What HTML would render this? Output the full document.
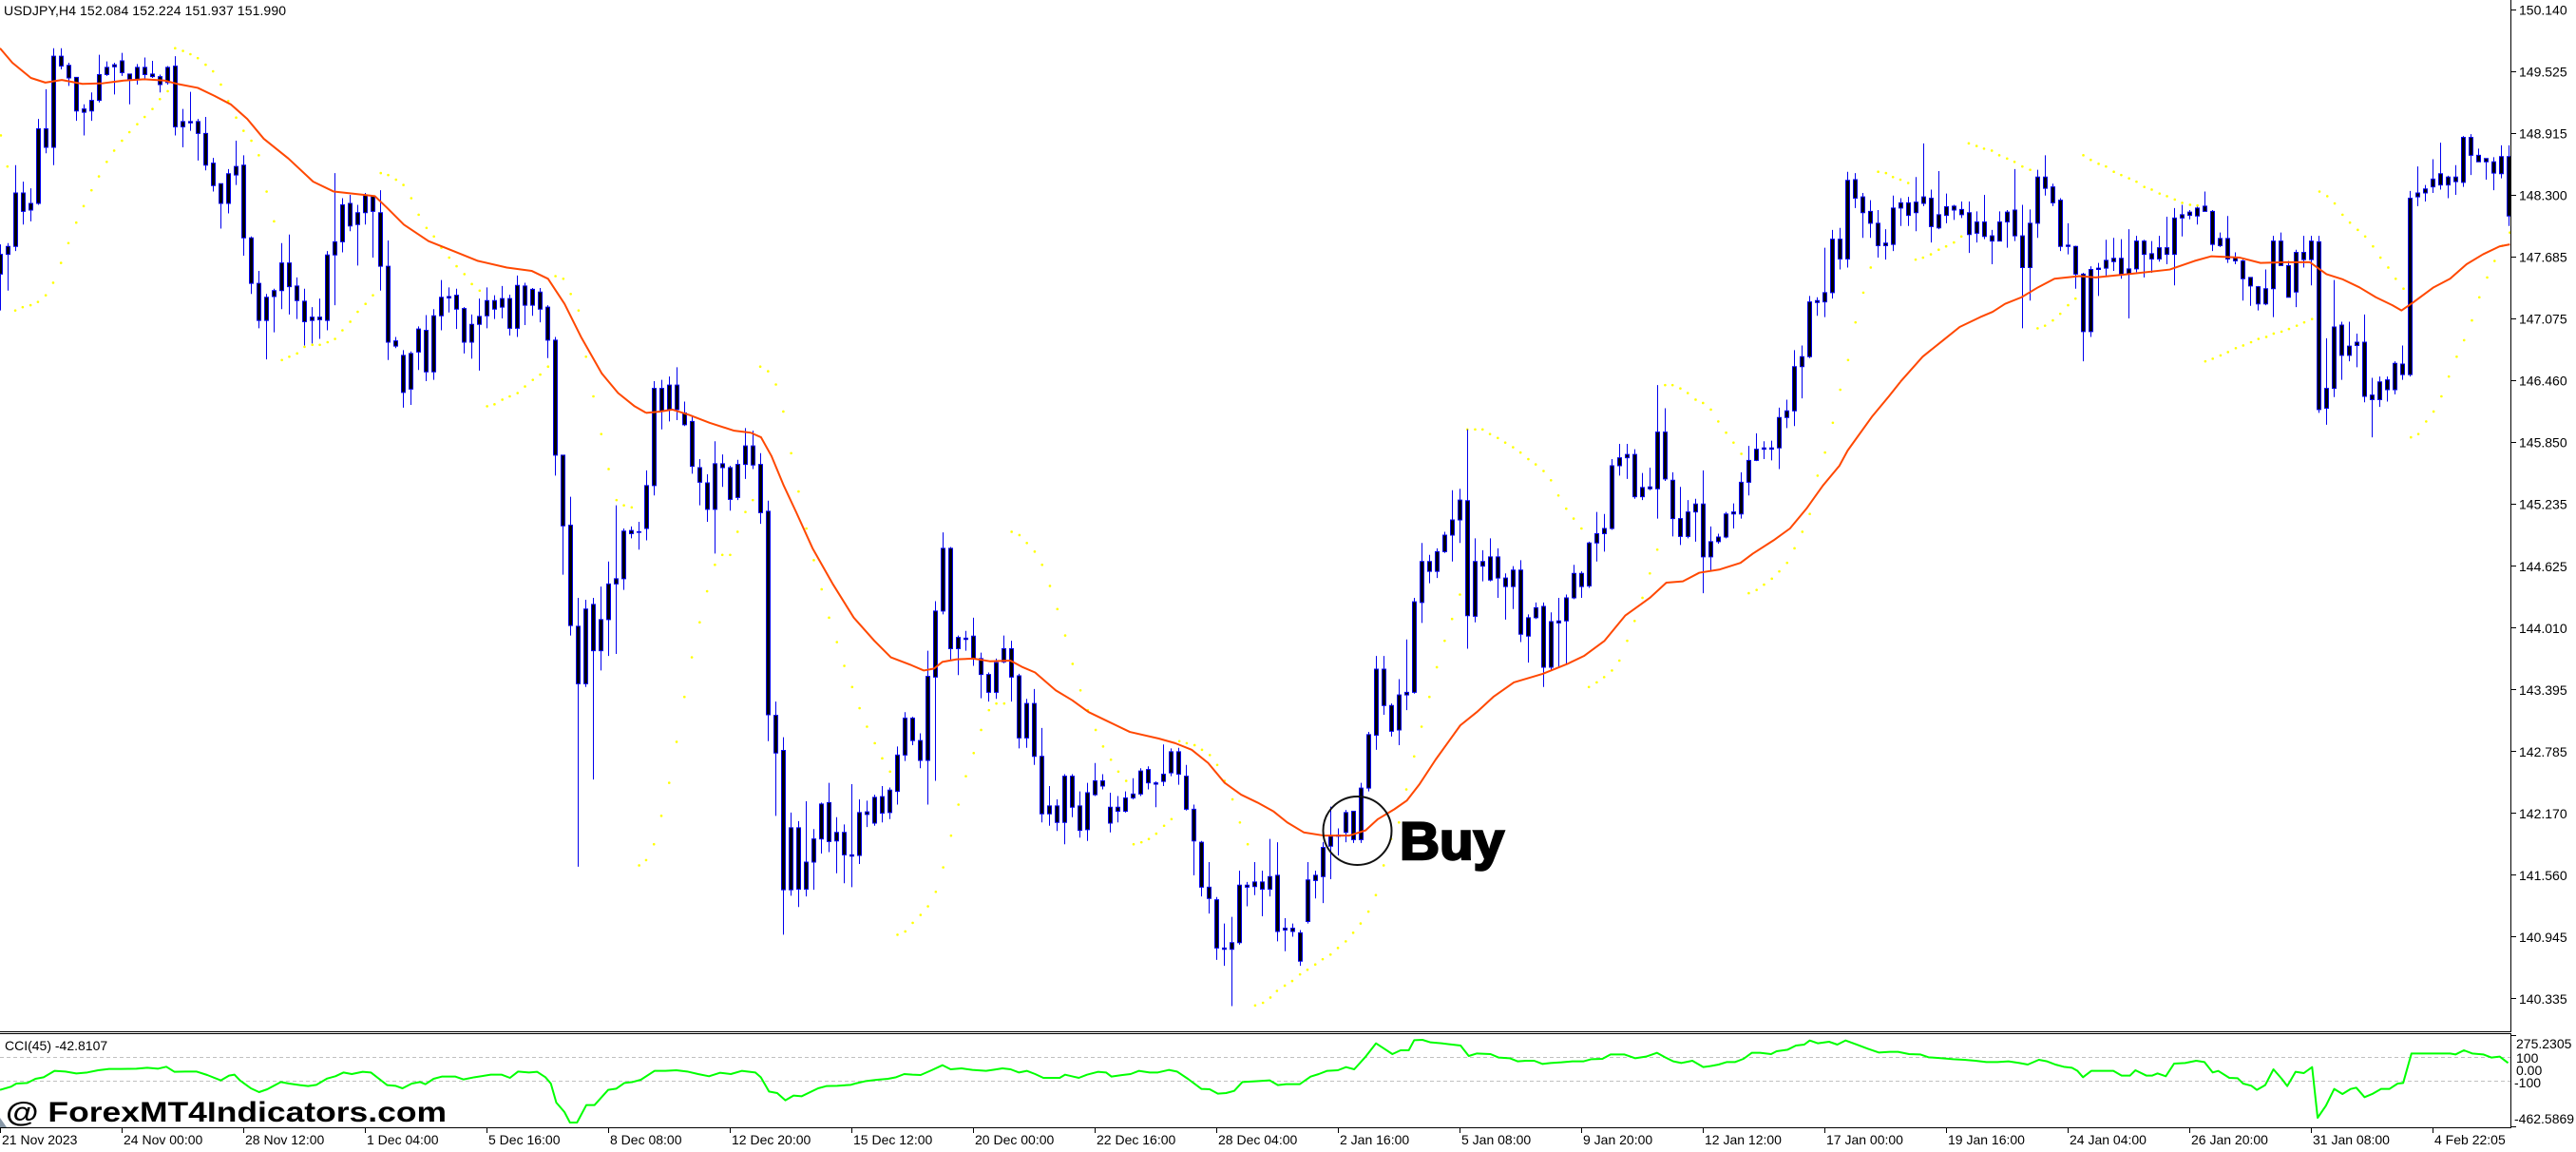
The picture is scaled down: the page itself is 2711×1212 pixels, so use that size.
<!DOCTYPE html>
<html>
<head>
<meta charset="utf-8">
<style>
html,body{margin:0;padding:0;background:#fff;}
svg{display:block;}
text{font-family:"Liberation Sans",Arial,sans-serif;fill:#000;}
</style>
</head>
<body>
<svg width="2711" height="1212" viewBox="0 0 2711 1212" xmlns="http://www.w3.org/2000/svg">
<rect x="0" y="0" width="2711" height="1212" fill="#fff"/>

<text x="4" y="16" font-size="14" textLength="297">USDJPY,H4  152.084 152.224 151.937 151.990</text>

<!-- SAR dots -->
<g fill="none" stroke="#ffff00" stroke-width="2.6" stroke-linecap="round">
<path transform="translate(0,0) scale(0.43367,0.695)" vector-effect="non-scaling-stroke" d="M2 205h.1M18 252h.1M37 470h.1M55 465h.1M74 462h.1M92 457h.1M111 447h.1M129 428h.1M148 398h.1M166 368h.1M185 337h.1M203 312h.1M222 288h.1M240 267h.1M259 245h.1M277 228h.1M296 213h.1M314 200h.1M333 188h.1M351 177h.1M370 165h.1M388 150h.1M407 138h.1M425 73h.1M444 77h.1M462 82h.1M480 88h.1M499 98h.1M517 108h.1M536 128h.1M554 153h.1M573 178h.1M591 198h.1M610 213h.1M628 235h.1M647 290h.1M665 335h.1M684 545h.1M702 540h.1M721 535h.1M739 525h.1M758 522h.1M776 522h.1M795 518h.1M813 513h.1M831 500h.1M850 487h.1M868 472h.1M887 460h.1M905 447h.1M924 262h.1M942 265h.1M961 272h.1M979 280h.1M998 300h.1M1016 325h.1M1035 345h.1M1053 358h.1M1071 375h.1M1090 390h.1M1108 403h.1M1127 415h.1M1145 430h.1M1164 440h.1M1182 615h.1M1200 612h.1M1219 605h.1M1237 600h.1M1256 595h.1M1274 585h.1M1293 575h.1M1311 567h.1M1330 555h.1M1348 418h.1M1367 422h.1M1385 445h.1M1404 470h.1M1422 540h.1M1440 600h.1M1459 657h.1M1477 710h.1M1496 757h.1M1514 765h.1M1533 768h.1M1551 1310h.1"/>
<path transform="translate(660,0) scale(0.43367,0.695)" vector-effect="non-scaling-stroke" d="M46 1302h.1M65 1278h.1M83 1235h.1M102 1185h.1M120 1123h.1M139 1055h.1M157 995h.1M176 942h.1M194 895h.1M213 855h.1M231 840h.1M250 840h.1M268 805h.1M287 775h.1M305 757h.1M323 555h.1M342 562h.1M361 582h.1M379 623h.1M398 686h.1M416 744h.1M435 800h.1M453 848h.1M472 892h.1M490 935h.1M509 972h.1M527 1008h.1M546 1040h.1M564 1072h.1M582 1100h.1M601 1125h.1M619 1148h.1M638 1168h.1M656 1415h.1M675 1410h.1M693 1397h.1M712 1385h.1M730 1372h.1M749 1350h.1M767 1313h.1M786 1265h.1M804 1218h.1M822 1175h.1M841 1140h.1M859 1105h.1M878 1075h.1M896 1065h.1M915 1065h.1M933 805h.1M952 810h.1M970 822h.1M989 835h.1M1007 855h.1M1026 887h.1M1044 922h.1M1063 962h.1M1081 1005h.1M1100 1045h.1M1118 1075h.1M1137 1105h.1M1155 1130h.1M1174 1150h.1M1192 1168h.1M1211 1182h.1M1229 1278h.1M1248 1275h.1M1266 1270h.1M1284 1262h.1M1303 1250h.1M1321 1240h.1M1340 1122h.1M1358 1125h.1M1377 1128h.1M1395 1135h.1M1414 1143h.1M1432 1158h.1M1450 1182h.1M1469 1210h.1M1487 1245h.1M1506 1278h.1M1524 1522h.1M1543 1518h.1M1561 1510h.1"/>
<path transform="translate(1320,0) scale(0.43367,0.695)" vector-effect="non-scaling-stroke" d="M55 1500h.1M74 1492h.1M92 1485h.1M111 1475h.1M129 1468h.1M148 1460h.1M166 1452h.1M185 1445h.1M203 1435h.1M222 1425h.1M240 1412h.1M258 1398h.1M277 1380h.1M295 1355h.1M314 1310h.1M332 1270h.1M351 1245h.1M369 1195h.1M388 1145h.1M406 1100h.1M425 1055h.1M443 1010h.1M462 970h.1M480 937h.1M499 900h.1M517 650h.1M536 650h.1M554 650h.1M572 657h.1M591 663h.1M609 670h.1M628 677h.1M646 685h.1M665 695h.1M683 703h.1M702 713h.1M720 727h.1M738 750h.1M757 770h.1M775 785h.1M794 800h.1M812 1040h.1M831 1033h.1M849 1025h.1M868 1015h.1M886 1000h.1M905 970h.1M923 940h.1M942 905h.1M960 868h.1M978 832h.1M997 583h.1M1015 583h.1M1034 588h.1M1052 595h.1M1071 605h.1M1089 610h.1M1108 620h.1M1126 638h.1M1145 655h.1M1163 670h.1M1182 687h.1M1200 898h.1M1219 893h.1M1237 885h.1M1256 876h.1M1274 865h.1M1293 852h.1M1311 830h.1M1330 805h.1M1348 778h.1M1367 720h.1M1385 685h.1M1404 640h.1M1422 590h.1M1441 545h.1M1459 488h.1M1478 443h.1M1496 405h.1M1514 260h.1M1533 262h.1"/>
<path transform="translate(1980,0) scale(0.43367,0.695)" vector-effect="non-scaling-stroke" d="M28 268h.1M46 272h.1M65 277h.1M83 393h.1M101 390h.1M120 385h.1M139 378h.1M157 373h.1M176 367h.1M194 358h.1M212 217h.1M231 221h.1M249 225h.1M268 228h.1M286 235h.1M305 240h.1M323 245h.1M342 252h.1M361 257h.1M379 497h.1M397 493h.1M416 485h.1M434 475h.1M453 462h.1M471 452h.1M490 235h.1M508 242h.1M527 248h.1M545 252h.1M564 260h.1M582 265h.1M601 270h.1M619 275h.1M638 283h.1M656 287h.1M675 293h.1M693 297h.1M712 302h.1M730 307h.1M749 310h.1M767 311h.1M786 547h.1M804 543h.1M823 538h.1M841 533h.1M860 527h.1M878 523h.1M897 518h.1M915 513h.1M934 510h.1M952 505h.1M971 502h.1M989 498h.1M1008 493h.1M1026 488h.1M1045 483h.1M1063 290h.1M1082 297h.1M1100 308h.1M1119 325h.1M1137 337h.1M1156 348h.1M1174 358h.1M1193 373h.1M1211 390h.1M1230 405h.1M1248 422h.1M1267 437h.1M1285 662h.1M1303 657h.1M1322 638h.1M1340 623h.1M1359 600h.1M1377 570h.1M1396 540h.1M1414 515h.1M1433 485h.1M1451 450h.1M1470 420h.1M1488 395h.1M1507 372h.1M1525 352h.1"/>
</g>

<!-- Candles -->
<g transform="scale(1,0.695)">
<path fill="none" stroke="#0000ee" stroke-width="1" d="M0.5 370V470M8.5 368V440M16.5 250V380M24.5 275V340M32.5 285V335M40.5 180V310M48.5 135V232M56.5 73V250M64.5 73V105M72.5 95V130M80.5 117V183M88.5 158V205M96.5 140V183M104.5 83V155M112.5 93V115M120.5 95V143M128.5 80V115M136.5 112V158M144.5 97V128M152.5 87V120M160.5 92V118M168.5 113V140M176.5 100V128M184.5 85V205M192.5 165V223M200.5 139V198M208.5 180V243M216.5 177V258M224.5 239V290M232.5 278V346M240.5 256V323M248.5 213V280M256.5 235V387M264.5 358V445M272.5 410V497M280.5 445V544M288.5 437V503M296.5 368V468M304.5 355V476M312.5 420V483M320.5 437V523M328.5 465V520M336.5 452V513M344.5 380V500M352.5 262V462M360.5 300V382M368.5 295V350M376.5 310V402M384.5 292V340M392.5 296V390M400.5 288V440M408.5 364V545M416.5 510V527M424.5 530V617M432.5 532V613M440.5 494V560M448.5 477V577M456.5 468V575M464.5 424V500M472.5 435V473M480.5 437V498M488.5 465V535M496.5 476V543M504.5 452V561M512.5 435V497M520.5 447V483M528.5 433V482M536.5 446V508M544.5 417V510M552.5 428V492M560.5 436V478M568.5 436V488M576.5 462V542M584.5 510V720M592.5 689V870M600.5 752V962M608.5 905V1312M616.5 908V1040M624.5 905V1180M632.5 888V1015M640.5 850V993M648.5 765V990M656.5 800V893M664.5 797V815M672.5 790V832M680.5 712V818M688.5 577V750M696.5 575V650M704.5 570V638M712.5 556V636M720.5 608V645M728.5 630V717M736.5 695V765M744.5 718V790M752.5 668V838M760.5 688V737M768.5 705V773M776.5 696V757M784.5 648V725M792.5 652V710M800.5 686V793M808.5 758V1122M816.5 1062V1235M824.5 1116V1415M832.5 1230V1356M840.5 1243V1373M848.5 1213V1357M856.5 1255V1347M864.5 1215V1292M872.5 1185V1290M880.5 1237V1322M888.5 1248V1337M896.5 1187V1343M904.5 1210V1308M912.5 1212V1252M920.5 1203V1250M928.5 1190V1245M936.5 1192V1240M944.5 1130V1218M952.5 1078V1152M960.5 1085V1128M968.5 1110V1163M976.5 985V1218M984.5 910V1182M992.5 806V930M1000.5 828V1000M1008.5 962V1022M1016.5 955V985M1024.5 935V1008M1032.5 988V1057M1040.5 1018V1062M1048.5 997V1058M1056.5 962V1004M1064.5 970V1062M1072.5 1020V1133M1080.5 1058V1132M1088.5 1043V1158M1096.5 1102V1245M1104.5 1190V1250M1112.5 1210V1258M1120.5 1172V1278M1128.5 1172V1237M1136.5 1198V1268M1144.5 1185V1273M1152.5 1155V1205M1160.5 1172V1195M1168.5 1200V1260M1176.5 1205V1245M1184.5 1198V1230M1192.5 1178V1210M1200.5 1163V1205M1208.5 1160V1195M1216.5 1183V1222M1224.5 1127V1190M1232.5 1133V1175M1240.5 1132V1188M1248.5 1158V1227M1256.5 1218V1325M1264.5 1273V1357M1272.5 1305V1383M1280.5 1358V1453M1288.5 1398V1462M1296.5 1388V1523M1304.5 1318V1430M1312.5 1335V1372M1320.5 1305V1355M1328.5 1318V1387M1336.5 1270V1357M1344.5 1275V1425M1352.5 1390V1440M1360.5 1398V1418M1368.5 1408V1462M1376.5 1305V1398M1384.5 1318V1360M1392.5 1275V1367M1400.5 1221V1331M1408.5 1254V1295M1416.5 1226V1275M1424.5 1228V1276M1432.5 1185V1276M1440.5 1108V1198M1448.5 993V1135M1456.5 993V1082M1464.5 1065V1115M1472.5 1028V1128M1480.5 968V1075M1488.5 905V1050M1496.5 822V943M1504.5 840V883M1512.5 830V875M1520.5 805V837M1528.5 742V850M1536.5 740V822M1544.5 650V982M1552.5 815V942M1560.5 833V880M1568.5 815V880M1576.5 830V905M1584.5 868V938M1592.5 857V922M1600.5 848V972M1608.5 930V1003M1616.5 912V937M1624.5 912V1040M1632.5 927V1015M1640.5 905V1010M1648.5 900V1005M1656.5 855V907M1664.5 865V905M1672.5 820V890M1680.5 775V850M1688.5 778V835M1696.5 695V802M1704.5 672V720M1712.5 672V725M1720.5 680V755M1728.5 716V757M1736.5 708V742M1744.5 583V785M1752.5 618V728M1760.5 715V812M1768.5 737V825M1776.5 757V815M1784.5 755V820M1792.5 712V898M1800.5 797V865M1808.5 808V823M1816.5 775V815M1824.5 762V800M1832.5 715V785M1840.5 675V750M1848.5 656V698M1856.5 668V695M1864.5 667V697M1872.5 617V710M1880.5 605V648M1888.5 530V645M1896.5 523V603M1904.5 448V542M1912.5 450V478M1920.5 375V480M1928.5 348V452M1936.5 345V408M1944.5 260V405M1952.5 262V315M1960.5 292V360M1968.5 303V360M1976.5 318V390M1984.5 347V393M1992.5 296V380M2000.5 300V342M2008.5 298V342M2016.5 268V350M2024.5 217V312M2032.5 287V367M2040.5 259V347M2048.5 293V338M2056.5 310V333M2064.5 305V330M2072.5 305V383M2080.5 320V367M2088.5 295V362M2096.5 348V400M2104.5 320V365M2112.5 318V375M2120.5 256V365M2128.5 310V497M2136.5 317V455M2144.5 257V360M2152.5 235V296M2160.5 278V312M2168.5 300V380M2176.5 338V385M2184.5 372V437M2192.5 413V547M2200.5 403V510M2208.5 398V448M2216.5 363V418M2224.5 360V410M2232.5 362V422M2240.5 347V482M2248.5 357V412M2256.5 363V420M2264.5 365V413M2272.5 357V396M2280.5 328V400M2288.5 315V432M2296.5 310V358M2304.5 318V332M2312.5 313V340M2320.5 290V320M2328.5 318V380M2336.5 352V374M2344.5 327V398M2352.5 382V400M2360.5 393V455M2368.5 420V463M2376.5 433V470M2384.5 408V462M2392.5 357V480M2400.5 352V402M2408.5 395V450M2416.5 378V465M2424.5 357V405M2432.5 357V432M2440.5 357V625M2448.5 512V643M2456.5 424V601M2464.5 487V575M2472.5 487V547M2480.5 505V556M2488.5 476V609M2496.5 572V662M2504.5 570V616M2512.5 570V608M2520.5 547V597M2528.5 523V575M2536.5 289V570M2544.5 252V312M2552.5 280V305M2560.5 241V292M2568.5 216V287M2576.5 266V300M2584.5 250V295M2592.5 206V283M2600.5 203V265M2608.5 225V245M2616.5 240V272M2624.5 238V288M2632.5 220V270M2640.5 220V342"/>
<path fill="#000" stroke="#0000ee" stroke-width="1" vector-effect="non-scaling-stroke" d="M-1.5 385h4V415h-4zM6.5 373h4V385h-4zM14.5 292h4V373h-4zM22.5 292h4V320h-4zM30.5 308h4V318h-4zM38.5 195h4V308h-4zM46.5 195h4V223h-4zM54.5 85h4V223h-4zM62.5 85h4V100h-4zM70.5 99h4V118h-4zM78.5 117h4V168h-4zM86.5 165h4V170h-4zM94.5 152h4V168h-4zM102.5 113h4V152h-4zM110.5 102h4V113h-4zM118.5 98h4V101h-4zM126.5 92h4V110h-4zM134.5 112h4V120h-4zM142.5 102h4V120h-4zM150.5 102h4V113h-4zM158.5 112h4V116h-4zM166.5 116h4V128h-4zM174.5 102h4V125h-4zM182.5 100h4V192h-4zM190.5 184h4V192h-4zM198.5 184h4V186h-4zM206.5 184h4V202h-4zM214.5 202h4V250h-4zM222.5 247h4V281h-4zM230.5 278h4V308h-4zM238.5 263h4V308h-4zM246.5 252h4V265h-4zM254.5 250h4V360h-4zM262.5 360h4V429h-4zM270.5 429h4V485h-4zM278.5 450h4V485h-4zM286.5 440h4V449h-4zM294.5 398h4V440h-4zM302.5 398h4V434h-4zM310.5 433h4V455h-4zM318.5 456h4V487h-4zM326.5 480h4V485h-4zM334.5 480h4V484h-4zM342.5 386h4V485h-4zM350.5 366h4V386h-4zM358.5 310h4V366h-4zM366.5 308h4V342h-4zM374.5 322h4V340h-4zM382.5 295h4V322h-4zM390.5 297h4V320h-4zM398.5 322h4V403h-4zM406.5 403h4V518h-4zM414.5 516h4V524h-4zM422.5 538h4V594h-4zM430.5 535h4V589h-4zM438.5 498h4V533h-4zM446.5 500h4V563h-4zM454.5 478h4V563h-4zM462.5 450h4V478h-4zM470.5 449h4V451h-4zM478.5 447h4V468h-4zM486.5 467h4V518h-4zM494.5 491h4V518h-4zM502.5 479h4V491h-4zM510.5 455h4V478h-4zM518.5 455h4V468h-4zM526.5 452h4V465h-4zM534.5 452h4V497h-4zM542.5 432h4V497h-4zM550.5 433h4V462h-4zM558.5 438h4V462h-4zM566.5 442h4V468h-4zM574.5 465h4V515h-4zM582.5 515h4V689h-4zM590.5 689h4V796h-4zM598.5 795h4V947h-4zM606.5 948h4V1035h-4zM614.5 922h4V1035h-4zM622.5 915h4V985h-4zM630.5 938h4V985h-4zM638.5 884h4V938h-4zM646.5 876h4V884h-4zM654.5 804h4V876h-4zM662.5 803h4V808h-4zM670.5 805h4V806h-4zM678.5 735h4V800h-4zM686.5 588h4V735h-4zM694.5 588h4V622h-4zM702.5 583h4V620h-4zM710.5 583h4V620h-4zM718.5 625h4V643h-4zM726.5 638h4V706h-4zM734.5 708h4V730h-4zM742.5 731h4V771h-4zM750.5 702h4V771h-4zM758.5 702h4V708h-4zM766.5 708h4V756h-4zM774.5 703h4V753h-4zM782.5 675h4V703h-4zM790.5 675h4V704h-4zM798.5 703h4V776h-4zM806.5 774h4V1082h-4zM814.5 1083h4V1140h-4zM822.5 1136h4V1347h-4zM830.5 1253h4V1347h-4zM838.5 1253h4V1346h-4zM846.5 1305h4V1346h-4zM854.5 1270h4V1305h-4zM862.5 1217h4V1270h-4zM870.5 1215h4V1274h-4zM878.5 1260h4V1273h-4zM886.5 1260h4V1294h-4zM894.5 1294h4V1296h-4zM902.5 1230h4V1295h-4zM910.5 1229h4V1233h-4zM918.5 1207h4V1246h-4zM926.5 1206h4V1231h-4zM934.5 1196h4V1230h-4zM942.5 1143h4V1198h-4zM950.5 1087h4V1143h-4zM958.5 1087h4V1121h-4zM966.5 1121h4V1151h-4zM974.5 1024h4V1151h-4zM982.5 925h4V1025h-4zM990.5 830h4V925h-4zM998.5 830h4V982h-4zM1006.5 965h4V982h-4zM1014.5 966h4V968h-4zM1022.5 963h4V997h-4zM1030.5 997h4V1021h-4zM1038.5 1021h4V1048h-4zM1046.5 1003h4V1048h-4zM1054.5 982h4V1002h-4zM1062.5 982h4V1025h-4zM1070.5 1023h4V1117h-4zM1078.5 1065h4V1117h-4zM1086.5 1065h4V1145h-4zM1094.5 1145h4V1232h-4zM1102.5 1220h4V1232h-4zM1110.5 1220h4V1245h-4zM1118.5 1175h4V1245h-4zM1126.5 1175h4V1222h-4zM1134.5 1220h4V1257h-4zM1142.5 1200h4V1256h-4zM1150.5 1182h4V1203h-4zM1158.5 1182h4V1190h-4zM1166.5 1222h4V1246h-4zM1174.5 1222h4V1228h-4zM1182.5 1208h4V1228h-4zM1190.5 1202h4V1208h-4zM1198.5 1167h4V1202h-4zM1206.5 1165h4V1185h-4zM1214.5 1185h4V1187h-4zM1222.5 1172h4V1183h-4zM1230.5 1138h4V1170h-4zM1238.5 1138h4V1172h-4zM1246.5 1175h4V1225h-4zM1254.5 1225h4V1273h-4zM1262.5 1275h4V1343h-4zM1270.5 1343h4V1360h-4zM1278.5 1362h4V1435h-4zM1286.5 1435h4V1437h-4zM1294.5 1427h4V1437h-4zM1302.5 1340h4V1427h-4zM1310.5 1340h4V1343h-4zM1318.5 1335h4V1342h-4zM1326.5 1335h4V1346h-4zM1334.5 1327h4V1346h-4zM1342.5 1325h4V1410h-4zM1350.5 1405h4V1408h-4zM1358.5 1405h4V1410h-4zM1366.5 1412h4V1455h-4zM1374.5 1332h4V1395h-4zM1382.5 1325h4V1333h-4zM1390.5 1283h4V1327h-4zM1398.5 1266h4V1281h-4zM1406.5 1264h4V1266h-4zM1414.5 1230h4V1260h-4zM1422.5 1228h4V1271h-4zM1430.5 1193h4V1271h-4zM1438.5 1112h4V1193h-4zM1446.5 1013h4V1113h-4zM1454.5 1013h4V1068h-4zM1462.5 1068h4V1107h-4zM1470.5 1052h4V1105h-4zM1478.5 1048h4V1052h-4zM1486.5 911h4V1048h-4zM1494.5 850h4V912h-4zM1502.5 850h4V865h-4zM1510.5 835h4V865h-4zM1518.5 810h4V835h-4zM1526.5 787h4V810h-4zM1534.5 757h4V787h-4zM1542.5 758h4V932h-4zM1550.5 850h4V933h-4zM1558.5 850h4V857h-4zM1566.5 843h4V878h-4zM1574.5 843h4V875h-4zM1582.5 875h4V888h-4zM1590.5 863h4V888h-4zM1598.5 863h4V960h-4zM1606.5 935h4V963h-4zM1614.5 920h4V935h-4zM1622.5 918h4V1010h-4zM1630.5 941h4V1010h-4zM1638.5 940h4V943h-4zM1646.5 905h4V940h-4zM1654.5 868h4V905h-4zM1662.5 868h4V888h-4zM1670.5 822h4V887h-4zM1678.5 808h4V822h-4zM1686.5 800h4V808h-4zM1694.5 705h4V800h-4zM1702.5 693h4V705h-4zM1710.5 688h4V693h-4zM1718.5 688h4V752h-4zM1726.5 738h4V752h-4zM1734.5 737h4V740h-4zM1742.5 654h4V740h-4zM1750.5 654h4V725h-4zM1758.5 727h4V785h-4zM1766.5 785h4V812h-4zM1774.5 775h4V812h-4zM1782.5 763h4V775h-4zM1790.5 763h4V843h-4zM1798.5 820h4V843h-4zM1806.5 813h4V820h-4zM1814.5 778h4V813h-4zM1822.5 775h4V778h-4zM1830.5 730h4V778h-4zM1838.5 697h4V730h-4zM1846.5 680h4V697h-4zM1854.5 678h4V680h-4zM1862.5 678h4V680h-4zM1870.5 632h4V678h-4zM1878.5 622h4V632h-4zM1886.5 555h4V622h-4zM1894.5 540h4V555h-4zM1902.5 457h4V540h-4zM1910.5 455h4V458h-4zM1918.5 443h4V457h-4zM1926.5 362h4V443h-4zM1934.5 362h4V392h-4zM1942.5 273h4V392h-4zM1950.5 272h4V300h-4zM1958.5 298h4V322h-4zM1966.5 320h4V338h-4zM1974.5 338h4V372h-4zM1982.5 368h4V372h-4zM1990.5 315h4V370h-4zM1998.5 307h4V315h-4zM2006.5 307h4V326h-4zM2014.5 306h4V322h-4zM2022.5 298h4V308h-4zM2030.5 300h4V343h-4zM2038.5 325h4V345h-4zM2046.5 313h4V326h-4zM2054.5 312h4V318h-4zM2062.5 317h4V325h-4zM2070.5 322h4V355h-4zM2078.5 336h4V353h-4zM2086.5 336h4V358h-4zM2094.5 357h4V365h-4zM2102.5 336h4V365h-4zM2110.5 321h4V336h-4zM2118.5 318h4V357h-4zM2126.5 357h4V405h-4zM2134.5 338h4V405h-4zM2142.5 268h4V338h-4zM2150.5 268h4V285h-4zM2158.5 283h4V307h-4zM2166.5 303h4V373h-4zM2174.5 371h4V373h-4zM2182.5 373h4V415h-4zM2190.5 415h4V502h-4zM2198.5 408h4V502h-4zM2206.5 406h4V408h-4zM2214.5 394h4V406h-4zM2222.5 391h4V396h-4zM2230.5 391h4V415h-4zM2238.5 407h4V415h-4zM2246.5 365h4V407h-4zM2254.5 365h4V385h-4zM2262.5 384h4V392h-4zM2270.5 375h4V392h-4zM2278.5 375h4V385h-4zM2286.5 330h4V385h-4zM2294.5 325h4V330h-4zM2302.5 321h4V326h-4zM2310.5 315h4V327h-4zM2318.5 312h4V320h-4zM2326.5 320h4V370h-4zM2334.5 361h4V372h-4zM2342.5 361h4V392h-4zM2350.5 390h4V395h-4zM2358.5 395h4V422h-4zM2366.5 420h4V433h-4zM2374.5 434h4V460h-4zM2382.5 437h4V460h-4zM2390.5 365h4V437h-4zM2398.5 365h4V402h-4zM2406.5 402h4V450h-4zM2414.5 382h4V442h-4zM2422.5 382h4V393h-4zM2430.5 365h4V393h-4zM2438.5 366h4V620h-4zM2446.5 588h4V618h-4zM2454.5 495h4V588h-4zM2462.5 492h4V538h-4zM2470.5 524h4V538h-4zM2478.5 518h4V523h-4zM2486.5 518h4V600h-4zM2494.5 598h4V605h-4zM2502.5 578h4V605h-4zM2510.5 575h4V590h-4zM2518.5 550h4V590h-4zM2526.5 551h4V567h-4zM2534.5 300h4V567h-4zM2542.5 292h4V298h-4zM2550.5 286h4V292h-4zM2558.5 271h4V283h-4zM2566.5 263h4V280h-4zM2574.5 268h4V280h-4zM2582.5 268h4V275h-4zM2590.5 208h4V276h-4zM2598.5 208h4V235h-4zM2606.5 235h4V245h-4zM2614.5 240h4V245h-4zM2622.5 245h4V262h-4zM2630.5 237h4V263h-4zM2638.5 237h4V327h-4z"/>
</g>

<!-- Moving average -->
<g fill="none" stroke="#ff4800" stroke-width="2" stroke-linejoin="round">
<path transform="translate(0,0) scale(0.43367,0.695)" vector-effect="non-scaling-stroke" d="M0 73L30 95L75 118L110 125L150 121L200 127L250 126L300 122L350 120L400 122L430 127L480 133L520 145L560 158L600 180L640 210L700 240L760 275L810 290L870 294L910 297L940 315L980 340L1040 365L1100 380L1160 395L1230 405L1290 410L1330 422L1370 460L1410 510L1460 565L1500 595L1540 615L1568 625"/>
<path transform="translate(660,0) scale(0.43367,0.695)" vector-effect="non-scaling-stroke" d="M46 625L80 623L110 620L150 628L200 640L260 652L300 655L325 662L350 690L380 735L410 775L450 830L500 885L550 935L600 970L640 995L690 1007L720 1015L745 1012L765 1002L800 998L840 997L880 1001L930 1000L960 1010L990 1018L1040 1045L1080 1060L1120 1078L1160 1090L1220 1108L1290 1118L1330 1125L1370 1135L1410 1155L1450 1185L1490 1203L1530 1215L1568 1228"/>
<path transform="translate(1320,0) scale(0.43367,0.695)" vector-effect="non-scaling-stroke" d="M46 1228L80 1245L120 1260L170 1265L230 1265L270 1257L300 1240L340 1225L370 1212L400 1188L440 1150L500 1098L540 1078L580 1055L630 1033L700 1020L760 1005L800 993L850 970L900 932L960 905L1000 882L1040 880L1080 867L1130 862L1180 852L1210 838L1260 818L1300 800L1340 770L1380 735L1420 705L1440 682L1500 630L1540 600L1568 578"/>
<path transform="translate(1980,0) scale(0.43367,0.695)" vector-effect="non-scaling-stroke" d="M46 578L100 540L150 515L190 495L240 480L270 472L300 460L340 450L380 435L420 422L480 418L520 420L600 415L700 408L760 395L800 388L870 390L920 398L980 397L1040 397L1080 415L1120 423L1160 435L1200 450L1240 462L1262 470L1290 458L1340 435L1380 422L1420 400L1460 385L1500 373L1525 370"/>
</g>

<!-- Buy annotation -->
<circle cx="1428.5" cy="874" r="36" fill="none" stroke="#111" stroke-width="2"/>
<text x="1473" y="904" font-size="56" font-weight="bold" stroke="#000" stroke-width="2.4" textLength="110" lengthAdjust="spacingAndGlyphs">Buy</text>

<!-- frame lines -->
<g stroke="#000" stroke-width="1" fill="none">
<path d="M2642.5 0V1086M2642.5 1088V1187M0 1085.5H2643M0 1087.5H2643M0 1186.5H2643"/>
<path d="M2643 10.5h5M2643 75.5h5M2643 140.5h5M2643 205.5h5M2643 270.5h5M2643 335.5h5M2643 400.5h5M2643 465.5h5M2643 530.5h5M2643 595.5h5M2643 660.5h5M2643 725.5h5M2643 790.5h5M2643 855.5h5M2643 920.5h5M2643 985.5h5M2643 1050.5h5"/>
<path d="M2643 1089.5h5M2643 1185.5h5"/>
<path d="M0.5 1187v5M128.5 1187v5M256.5 1187v5M384.5 1187v5M512.5 1187v5M640.5 1187v5M768.5 1187v5M896.5 1187v5M1024.5 1187v5M1152.5 1187v5M1280.5 1187v5M1408.5 1187v5M1536.5 1187v5M1664.5 1187v5M1792.5 1187v5M1920.5 1187v5M2048.5 1187v5M2176.5 1187v5M2304.5 1187v5M2432.5 1187v5M2560.5 1187v5"/>
</g>

<!-- price labels -->
<g font-size="14">
<text x="2651" y="15.5">150.140</text>
<text x="2651" y="80.5">149.525</text>
<text x="2651" y="145.6">148.915</text>
<text x="2651" y="210.6">148.300</text>
<text x="2651" y="275.6">147.685</text>
<text x="2651" y="340.7">147.075</text>
<text x="2651" y="405.7">146.460</text>
<text x="2651" y="470.7">145.850</text>
<text x="2651" y="535.7">145.235</text>
<text x="2651" y="600.8">144.625</text>
<text x="2651" y="665.8">144.010</text>
<text x="2651" y="730.8">143.395</text>
<text x="2651" y="795.9">142.785</text>
<text x="2651" y="860.9">142.170</text>
<text x="2651" y="925.9">141.560</text>
<text x="2651" y="991">140.945</text>
<text x="2651" y="1056">140.335</text>
</g>

<!-- CCI panel -->
<g stroke="#c0c0c0" stroke-width="1" stroke-dasharray="4 3">
<path d="M0 1112.5H2642M0 1137.5H2642"/>
</g>
<g fill="none" stroke="#00ff00" stroke-width="2" stroke-linejoin="round">
<path transform="translate(0,1000) scale(0.57398,0.33333)" vector-effect="non-scaling-stroke" d="M0 440L20 430L30 420L50 418L65 405L80 400L100 380L120 382L140 388L160 385L180 378L200 374L220 374L250 373L270 370L290 373L305 367L320 383L340 382L360 382L380 393L405 410L420 395L430 392L440 410L460 435L475 447L490 438L515 415L530 420L550 425L565 428L580 424L600 404L615 397L630 385L645 390L665 383L680 385L695 405L710 425L725 427L738 435L755 420L770 415L780 422L795 405L810 398L835 398L850 407L870 400L900 392L920 392L935 402L950 382L970 385L985 383L1000 400L1010 420L1020 480L1035 510L1045 543L1058 543L1075 488L1090 488L1115 440L1130 436L1145 418L1160 415L1175 408L1200 380L1220 380L1240 378L1260 382L1280 390L1300 397L1320 386L1340 390L1360 380L1385 385L1395 400L1410 445L1425 450L1440 473L1455 458L1470 460L1500 435L1515 428L1535 427L1560 424L1568 420"/>
<path transform="translate(900,1000) scale(0.57398,0.33333)" vector-effect="non-scaling-stroke" d="M0 420L20 412L40 408L60 405L75 400L90 390L105 392L120 393L140 378L160 362L175 375L195 372L215 377L240 380L255 376L270 372L285 375L300 385L315 380L330 390L345 402L375 402L385 392L400 398L410 402L425 392L445 383L460 385L470 398L490 393L505 390L520 380L540 385L555 385L575 377L590 382L610 405L635 437L650 438L665 452L680 450L695 443L710 415L740 412L760 410L775 425L790 422L815 422L835 398L850 390L865 380L885 378L900 368L915 375L935 337L955 293L970 310L985 327L1000 315L1015 315L1025 283L1040 282L1055 290L1075 293L1095 297L1110 300L1125 333L1140 325L1165 327L1180 338L1200 340L1215 350L1230 348L1245 348L1260 358L1275 355L1295 353L1315 350L1335 350L1350 343L1370 342L1385 328L1410 328L1430 340L1450 335L1470 323L1485 337L1500 350L1515 355L1535 348L1555 368L1568 365"/>
<path transform="translate(1800,1000) scale(0.58099,0.33333)" vector-effect="non-scaling-stroke" d="M0 365L15 360L30 352L45 352L60 342L75 323L90 323L110 327L120 318L140 313L155 300L170 297L180 284L195 293L215 288L230 297L245 284L265 297L285 310L305 322L325 320L340 320L360 327L380 328L395 337L420 340L440 343L460 345L480 348L500 352L520 352L540 350L560 355L575 360L595 345L610 350L625 360L640 367L655 370L665 380L675 400L690 380L730 380L745 395L760 395L770 378L790 395L800 395L810 388L825 397L840 357L860 355L880 348L895 352L910 385L920 380L940 402L955 403L965 420L980 427L990 440L1005 425L1020 375L1035 405L1045 428L1060 383L1075 387L1090 368L1100 528L1115 490L1130 437L1145 453L1160 437L1170 433L1185 463L1200 452L1215 437L1230 437L1245 420L1255 418L1270 325L1340 325L1350 328L1365 315L1380 325L1400 328L1415 338L1430 335L1445 355"/>
</g>
<text x="5" y="1105" font-size="14">CCI(45) -42.8107</text>
<g font-size="14">
<text x="2648" y="1103">275.2305</text>
<text x="2648" y="1118">100</text>
<text x="2648" y="1131">0.00</text>
<text x="2646" y="1144">-100</text>
<text x="2646" y="1182">-462.5869</text>
</g>

<!-- watermark -->
<polygon points="0,1176 7,1186 0,1186" fill="#8898a8"/>
<text x="6" y="1180" font-size="30" font-weight="bold" textLength="464" lengthAdjust="spacingAndGlyphs">@ ForexMT4Indicators.com</text>

<!-- time labels -->
<g font-size="14">
<text x="2" y="1204">21 Nov 2023</text>
<text x="130" y="1204">24 Nov 00:00</text>
<text x="258" y="1204">28 Nov 12:00</text>
<text x="386" y="1204">1 Dec 04:00</text>
<text x="514" y="1204">5 Dec 16:00</text>
<text x="642" y="1204">8 Dec 08:00</text>
<text x="770" y="1204">12 Dec 20:00</text>
<text x="898" y="1204">15 Dec 12:00</text>
<text x="1026" y="1204">20 Dec 00:00</text>
<text x="1154" y="1204">22 Dec 16:00</text>
<text x="1282" y="1204">28 Dec 04:00</text>
<text x="1410" y="1204">2 Jan 16:00</text>
<text x="1538" y="1204">5 Jan 08:00</text>
<text x="1666" y="1204">9 Jan 20:00</text>
<text x="1794" y="1204">12 Jan 12:00</text>
<text x="1922" y="1204">17 Jan 00:00</text>
<text x="2050" y="1204">19 Jan 16:00</text>
<text x="2178" y="1204">24 Jan 04:00</text>
<text x="2306" y="1204">26 Jan 20:00</text>
<text x="2434" y="1204">31 Jan 08:00</text>
<text x="2562" y="1204">4 Feb 22:05</text>
</g>
</svg>
</body>
</html>
